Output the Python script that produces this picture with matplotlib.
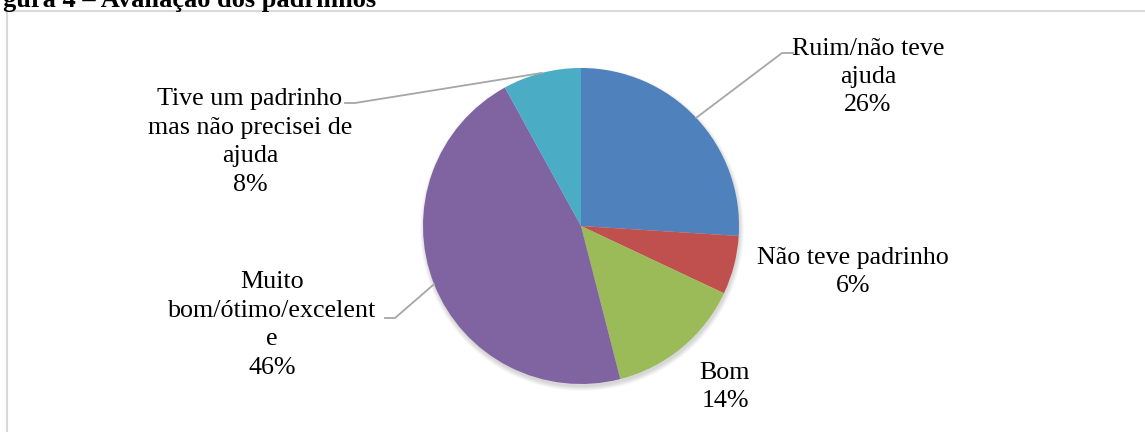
import numpy as np
import matplotlib
matplotlib.use("Agg")
import matplotlib.pyplot as plt
from matplotlib.patches import Circle

# data
categorias = ["Ruim/não teve\najuda", "Não teve padrinho", "Bom",
              "Muito\nbom/ótimo/excelent\ne",
              "Tive um padrinho\nmas não precisei de\najuda"]
percentuais = [26, 6, 14, 46, 8]
cores = ["#4F81BD", "#C0504D", "#9BBB59", "#8064A2", "#4BACC6"]

W, H = 1145, 432
fig = plt.figure(figsize=(W / 100, H / 100), dpi=100)
ax = fig.add_axes([0, 0, 1, 1])

plt.rcParams["font.family"] = ["Liberation Serif", "DejaVu Serif"]

cx, cy, r = 581, H - 226, 158

# soft shadow under the pie
for k in range(8):
    ax.add_patch(Circle((cx + 1, cy - 3), r + 4 - k * 0.6, color="black",
                        alpha=0.018, lw=0, zorder=1))

wedges, _ = ax.pie(percentuais, colors=cores, startangle=90, counterclock=False,
                   center=(cx, cy), radius=r, frame=True,
                   wedgeprops=dict(linewidth=0, zorder=2))
ax.set_xlim(0, W)
ax.set_ylim(0, H)
ax.set_aspect("equal")
ax.axis("off")

# label positions (pixel coords, y from top) and leader elbows
label_pos = [(868, 77), (853, 272), (725, 387), (272, 325), (250, 142)]
leaders = {0: [(782, 53), (793, 53)],
           3: [(395, 318), (385, 318)],
           4: [(355, 103), (345, 103)]}

for i, (w, p) in enumerate(zip(wedges, percentuais)):
    lx, ly = label_pos[i]
    ax.text(lx, H - ly, f"{categorias[i]}\n{p}%", ha="center", va="center",
            fontsize=18.7, linespacing=1.38, color="#000000")
    if i in leaders:
        ang = np.deg2rad((w.theta1 + w.theta2) / 2)
        xs = [cx + r * np.cos(ang)] + [q[0] for q in leaders[i]]
        ys = [cy + r * np.sin(ang)] + [H - q[1] for q in leaders[i]]
        ax.plot(xs, ys, color="#A6A6A6", lw=1.3, zorder=3)

# chart frame (cut by image edges)
ax.plot([7, W + 5], [H - 11, H - 11], color="#D9D9D9", lw=1.5)
ax.plot([7, 7], [H - 11, -5], color="#D9D9D9", lw=1.5)

# caption, cut at the top
ax.text(3, H - 7, "gura 4 – Avaliação dos padrinhos", ha="left", va="baseline",
        fontsize=19, fontweight="bold", color="black")

fig.savefig("out.png", dpi=100)
